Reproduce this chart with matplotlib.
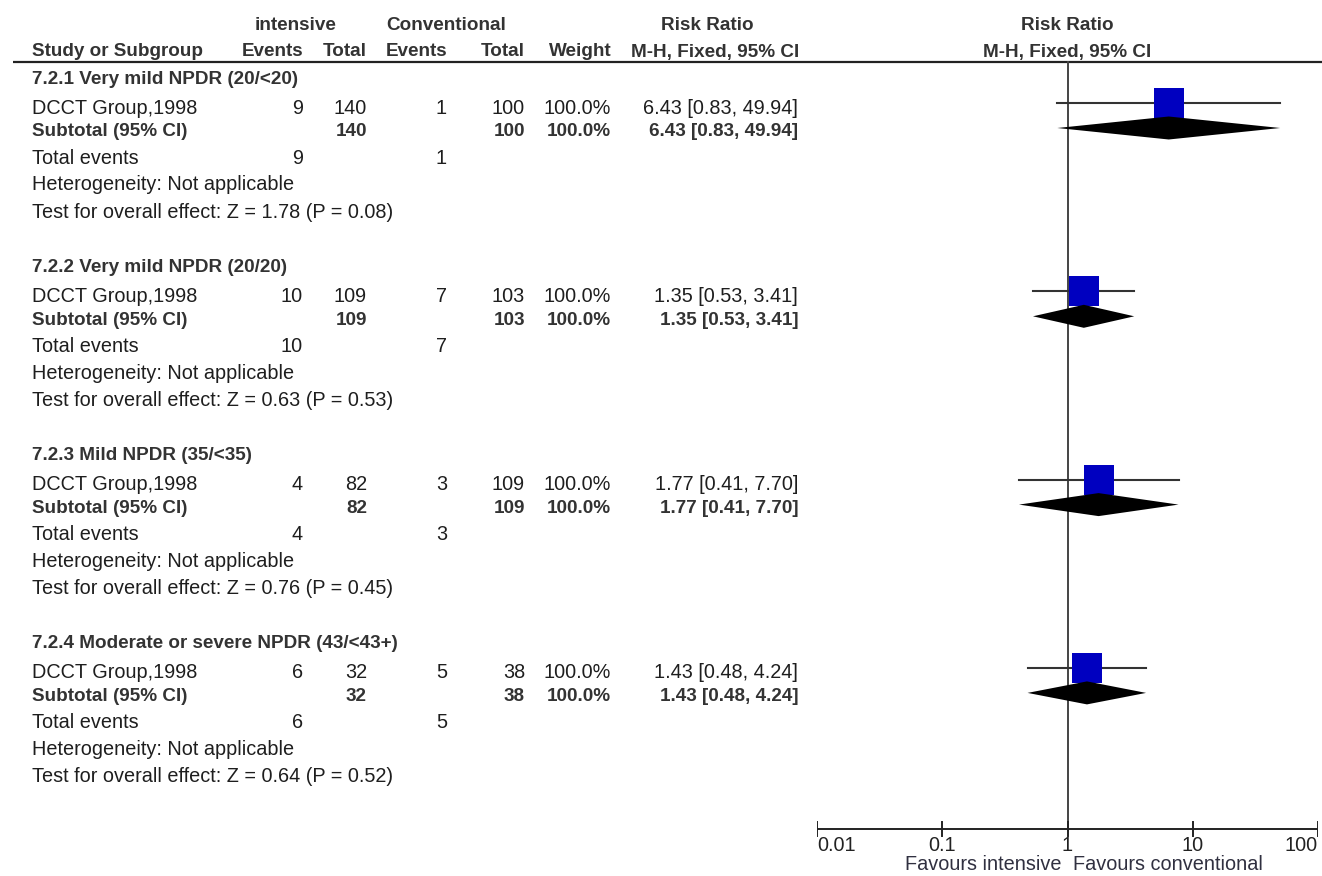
import numpy as np
import matplotlib
matplotlib.use("Agg")
import matplotlib.pyplot as plt

# data
subgroups = ["7.2.1 Very mild NPDR (20/<20)", "7.2.2 Very mild NPDR (20/20)",
             "7.2.3 Mild NPDR (35/<35)", "7.2.4 Moderate or severe NPDR (43/<43+)"]
study = "DCCT Group,1998"
int_events = [9, 10, 4, 6]
int_total = [140, 109, 82, 32]
con_events = [1, 7, 3, 5]
con_total = [100, 103, 109, 38]
weights = [100.0, 100.0, 100.0, 100.0]
rr = [6.43, 1.35, 1.77, 1.43]
ci_lo = [0.83, 0.53, 0.41, 0.48]
ci_hi = [49.94, 3.41, 7.70, 4.24]
z_vals = [1.78, 0.63, 0.76, 0.64]
p_vals = [0.08, 0.53, 0.45, 0.52]
ticks = [0.01, 0.1, 1, 10, 100]
tick_labels = ["0.01", "0.1", "1", "10", "100"]

W, H = 1322, 876
plt.rcParams['font.family'] = ['Liberation Sans', 'DejaVu Sans']
fs_reg = 14.3
fs_bold = 13.6
col_reg = '#1e1e1e'
col_bold = '#333333'

fig = plt.figure(figsize=(W / 100, H / 100), dpi=100)
ax = fig.add_axes([0, 0, 1, 1])
ax.set_xlim(0, W)
ax.set_ylim(H, 0)
ax.axis('off')

fa = fig.add_axes([817 / W, 0, 501 / W, 1])
fa.set_xscale('log')
fa.set_xlim(0.01, 100)
fa.set_ylim(H, 0)
fa.axis('off')
fa.patch.set_visible(False)

def txt(x, y, s, ha='left', bold=False):
    # y is the visual centre of the capitals
    ax.text(x, y + 6.5, s, ha=ha, va='baseline',
            fontsize=fs_bold if bold else fs_reg,
            fontweight='bold' if bold else 'normal',
            color=col_bold if bold else col_reg)

# column right edges
x_left = 32
x_ie, x_it, x_ce, x_ct, x_w, x_ci = 303, 367, 447, 525, 611, 798

# header
txt(296, 23, "intensive", 'center', True)
txt(446, 23, "Conventional", 'center', True)
txt(707, 23, "Risk Ratio", 'center', True)
txt(x_left, 50, "Study or Subgroup", bold=True)
txt(x_ie, 50, "Events", 'right', True)
txt(x_it, 50, "Total", 'right', True)
txt(x_ce, 50, "Events", 'right', True)
txt(x_ct, 50, "Total", 'right', True)
txt(x_w + 1, 50, "Weight", 'right', True)
txt(x_ci + 1, 50, "M-H, Fixed, 95% CI", 'right', True)
fa.text(1, 23 + 6.5, "Risk Ratio", ha='center', va='baseline', fontsize=fs_bold,
        fontweight='bold', color=col_bold)
fa.text(1, 50 + 6.5, "M-H, Fixed, 95% CI", ha='center', va='baseline', fontsize=fs_bold,
        fontweight='bold', color=col_bold)
ax.plot([13, W], [62, 62], color='#222222', lw=1.6, solid_capstyle='butt')

step = 188.3
for g in range(len(subgroups)):
    b = g * step
    ci_txt = f"{rr[g]:.2f} [{ci_lo[g]:.2f}, {ci_hi[g]:.2f}]"
    txt(x_left, 77 + b, subgroups[g], bold=True)
    # study row
    txt(x_left, 107 + b, study)
    txt(x_ie, 107 + b, str(int_events[g]), 'right')
    txt(x_it, 107 + b, str(int_total[g]), 'right')
    txt(x_ce, 107 + b, str(con_events[g]), 'right')
    txt(x_ct, 107 + b, str(con_total[g]), 'right')
    txt(x_w, 107 + b, f"{weights[g]:.1f}%", 'right')
    txt(x_ci, 107 + b, ci_txt, 'right')
    # subtotal row
    txt(x_left, 130 + b, "Subtotal (95% CI)", bold=True)
    txt(x_it, 130 + b, str(int_total[g]), 'right', True)
    txt(x_ct, 130 + b, str(con_total[g]), 'right', True)
    txt(x_w, 130 + b, f"{weights[g]:.1f}%", 'right', True)
    txt(x_ci, 130 + b, ci_txt, 'right', True)
    # totals and tests
    txt(x_left, 157 + b, "Total events")
    txt(x_ie, 157 + b, str(int_events[g]), 'right')
    txt(x_ce, 157 + b, str(con_events[g]), 'right')
    txt(x_left, 184 + b, "Heterogeneity: Not applicable")
    txt(x_left, 211 + b, f"Test for overall effect: Z = {z_vals[g]:.2f} (P = {p_vals[g]:.2f})")

    # forest marks
    yl = 103 + b
    yd = 128 + b
    fa.plot([ci_lo[g], ci_hi[g]], [yl, yl], color='#333333', lw=1.5, zorder=2)
    fa.plot([rr[g]], [yl], marker='s', markersize=21.6, color='#0000c0',
            markeredgewidth=0, zorder=3)
    fa.fill([ci_lo[g], rr[g], ci_hi[g], rr[g]], [yd, yd - 11.5, yd, yd + 11.5],
            color='black', lw=0, zorder=4)

# null line
fa.plot([1, 1], [62, 830], color='#444444', lw=1.4, zorder=1)

# bottom axis
y_ax = 829
fa.plot([0.01, 100], [y_ax, y_ax], color='#222222', lw=1.4, solid_capstyle='butt')
for t, lab in zip(ticks, tick_labels):
    fa.plot([t, t], [822, 836], color='#222222', lw=1.4)
    ha = 'left' if t == ticks[0] else ('right' if t == ticks[-1] else 'center')
    fa.text(t, 836, lab, ha=ha, va='top', fontsize=fs_reg, color='#222222')
fa.text(0.9, 865, "Favours intensive", ha='right', va='center', fontsize=fs_reg, color='#303040')
fa.text(1.1, 865, "Favours conventional", ha='left', va='center', fontsize=fs_reg, color='#303040')

fig.savefig("out.png", dpi=100)
